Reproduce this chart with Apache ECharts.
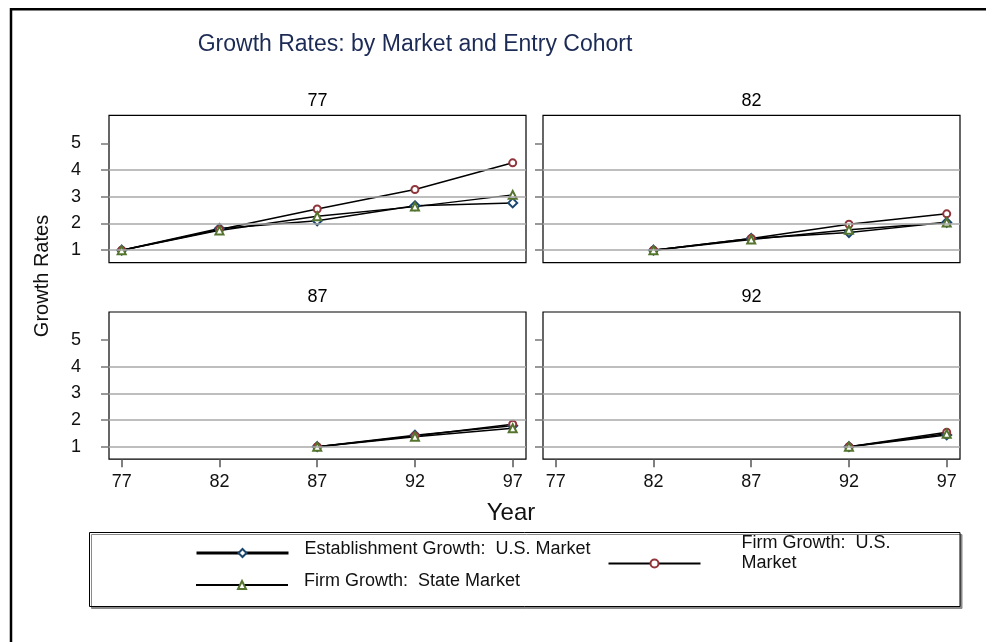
<!DOCTYPE html>
<html>
<head>
<meta charset="utf-8">
<title>Growth Rates: by Market and Entry Cohort</title>
<script src="https://cdn.jsdelivr.net/npm/echarts@6/dist/echarts.min.js"></script>
<style>
  html, body { margin: 0; padding: 0; background: #fff; }
  #chart { width: 986px; height: 642px; }
</style>
</head>
<body>
<div id="chart"></div>
<script>
// Survey years on the x axis and entry cohorts (one panel each)
const years = [77, 82, 87, 92, 97];
const cohorts = ['77', '82', '87', '92'];

// Growth relative to the entry year, one row per cohort (null = before entry)
const estUS = [
  [1, 1.81, 2.10, 2.66, 2.77],
  [null, 1, 1.44, 1.66, 2.04],
  [null, null, 1, 1.43, 1.78],
  [null, null, null, 1, 1.44]
];
const firmUS = [
  [1, 1.77, 2.54, 3.27, 4.27],
  [null, 1, 1.44, 1.97, 2.36],
  [null, null, 1, 1.40, 1.84],
  [null, null, null, 1, 1.54]
];
const firmState = [
  [1, 1.74, 2.27, 2.63, 3.07],
  [null, 1, 1.40, 1.76, 2.04],
  [null, null, 1, 1.37, 1.69],
  [null, null, null, 1, 1.48]
];

const yTicks = [1, 2, 3, 4, 5];
const yGridLines = [1, 2, 3, 4];

const seriesNames = [
  'Establishment Growth:  U.S. Market',
  'Firm Growth:  U.S. Market',
  'Firm Growth:  State Market'
];

const FONT = '"Liberation Sans", Arial, Helvetica, sans-serif';
const colEst = '#1a476f';
const colFirmUS = '#90353b';
const colState = '#55752f';

// Panel geometry: 2 x 2 layout
const panels = [
  { left: 109, top: 115.3, width: 417, height: 147.4 },
  { left: 543, top: 115.3, width: 417, height: 147.4 },
  { left: 109, top: 312, width: 417, height: 147.2 },
  { left: 543, top: 312, width: 417, height: 147.2 }
];
const X_MIN = 76.35, X_MAX = 97.68;
const Y_MIN = 0.53, Y_MAX = 6.05;

function pairs(row) {
  const out = [];
  row.forEach((v, j) => { if (v !== null) out.push([years[j], v]); });
  return out;
}

const grids = [], xAxes = [], yAxes = [], series = [], titles = [];

titles.push({
  text: 'Growth Rates: by Market and Entry Cohort',
  left: 415, top: 33, textAlign: 'center', padding: 0,
  textStyle: { fontFamily: FONT, fontSize: 23, fontWeight: 'normal', color: '#1c2b55' }
});

panels.forEach((p, i) => {
  const isBottom = i >= 2;
  const isLeft = i % 2 === 0;
  grids.push({
    left: p.left, top: p.top, width: p.width, height: p.height,
    show: true, borderColor: '#000', borderWidth: 1.2, backgroundColor: 'transparent'
  });
  titles.push({
    text: cohorts[i],
    left: p.left + p.width / 2, top: p.top - 23.5, textAlign: 'center', padding: 0,
    textStyle: { fontFamily: FONT, fontSize: 18, fontWeight: 'normal', color: '#000' }
  });
  xAxes.push({
    gridIndex: i, type: 'value', min: X_MIN, max: X_MAX,
    axisLine: { show: false },
    splitLine: { show: false },
    axisTick: { show: isBottom, customValues: years, length: 8, lineStyle: { color: '#555', width: 1.5 } },
    axisLabel: { show: isBottom, customValues: years, margin: 14, fontFamily: FONT, fontSize: 18, color: '#111' }
  });
  yAxes.push({
    gridIndex: i, type: 'value', min: Y_MIN, max: Y_MAX,
    axisLine: { show: false },
    splitLine: { show: false },
    axisTick: { show: true, customValues: yTicks, length: 8, lineStyle: { color: '#777', width: 1.5 } },
    axisLabel: { show: isLeft, customValues: yTicks, margin: 28, fontFamily: FONT, fontSize: 18, color: '#111' }
  });

  // horizontal reference lines
  series.push({
    type: 'line', xAxisIndex: i, yAxisIndex: i, data: [], silent: true, z: 1,
    markLine: {
      silent: true, symbol: ['none', 'none'], label: { show: false },
      lineStyle: { color: '#a8a8a8', width: 1.5, type: 'solid' },
      emphasis: { disabled: true },
      data: yGridLines.map(v => ({ yAxis: v }))
    }
  });

  const defs = [
    { name: seriesNames[0], rows: estUS, symbol: 'emptyDiamond', color: colEst, size: 9 },
    { name: seriesNames[1], rows: firmUS, symbol: 'emptyCircle', color: colFirmUS, size: 7 },
    { name: seriesNames[2], rows: firmState, symbol: 'emptyTriangle', color: colState, size: 8 }
  ];
  defs.forEach(d => {
    series.push({
      name: d.name, type: 'line', xAxisIndex: i, yAxisIndex: i, z: 3,
      data: pairs(d.rows[i]),
      symbol: d.symbol, symbolSize: d.size, showSymbol: true,
      lineStyle: { color: '#000', width: 1.5 },
      itemStyle: { color: d.color, borderWidth: 1.5 },
      emphasis: { disabled: true }
    });
  });
});

const LEG_FONT = 18;
const legendRich = {
  t: { fontFamily: FONT, fontSize: LEG_FONT, color: '#111', lineHeight: 20 },
  s: { fontFamily: FONT, fontSize: 1, lineHeight: 8 }
};
const legendBase = {
  orient: 'horizontal', padding: 0, itemWidth: 92, itemHeight: 10,
  selectedMode: false
};

const legends = [
  Object.assign({}, legendBase, {
    data: [seriesNames[0]], left: 195, top: 540,
    lineStyle: { width: 3, color: '#000' },
    formatter: name => '{t|' + name + '}\n{s| }',
    textStyle: { padding: [0, 0, 0, 11], rich: legendRich }
  }),
  Object.assign({}, legendBase, {
    data: [seriesNames[2]], left: 195, top: 572,
    lineStyle: { width: 2, color: '#000' },
    formatter: name => '{t|' + name + '}\n{s| }',
    textStyle: { padding: [0, 0, 0, 11], rich: legendRich }
  }),
  Object.assign({}, legendBase, {
    data: [seriesNames[1]], left: 607.5, top: 534.5,
    lineStyle: { width: 2, color: '#000' },
    formatter: () => '{t|Firm Growth:  U.S.}\n{t|Market}\n{t| }',
    textStyle: { padding: [0, 0, 0, 36], rich: legendRich }
  })
];

const chart = echarts.init(document.getElementById('chart'), null, { renderer: 'canvas' });
chart.setOption({
  animation: false,
  backgroundColor: '#fff',
  title: titles,
  grid: grids,
  xAxis: xAxes,
  yAxis: yAxes,
  legend: legends,
  series: series,
  graphic: [
    {
      type: 'rect', z: -10, silent: true,
      shape: { x: 11, y: 9.3, width: 1000, height: 700 },
      style: { fill: 'none', stroke: '#000', lineWidth: 2.5 }
    },
    {
      type: 'rect', z: -5, silent: true,
      shape: { x: 89.5, y: 532.5, width: 870.5, height: 74 },
      style: { fill: '#fff', stroke: '#000', lineWidth: 1, shadowColor: '#8a8a8a', shadowOffsetX: 2, shadowOffsetY: 2, shadowBlur: 0 }
    },
    {
      type: 'text', silent: true,
      x: 42, y: 276, rotation: Math.PI / 2,
      style: { text: 'Growth Rates', fontFamily: FONT, fontSize: 20, fill: '#111', align: 'center', verticalAlign: 'middle' }
    },
    {
      type: 'text', silent: true,
      x: 511, y: 513,
      style: { text: 'Year', fontFamily: FONT, fontSize: 24, fill: '#111', align: 'center', verticalAlign: 'middle' }
    }
  ]
});
</script>
</body>
</html>
